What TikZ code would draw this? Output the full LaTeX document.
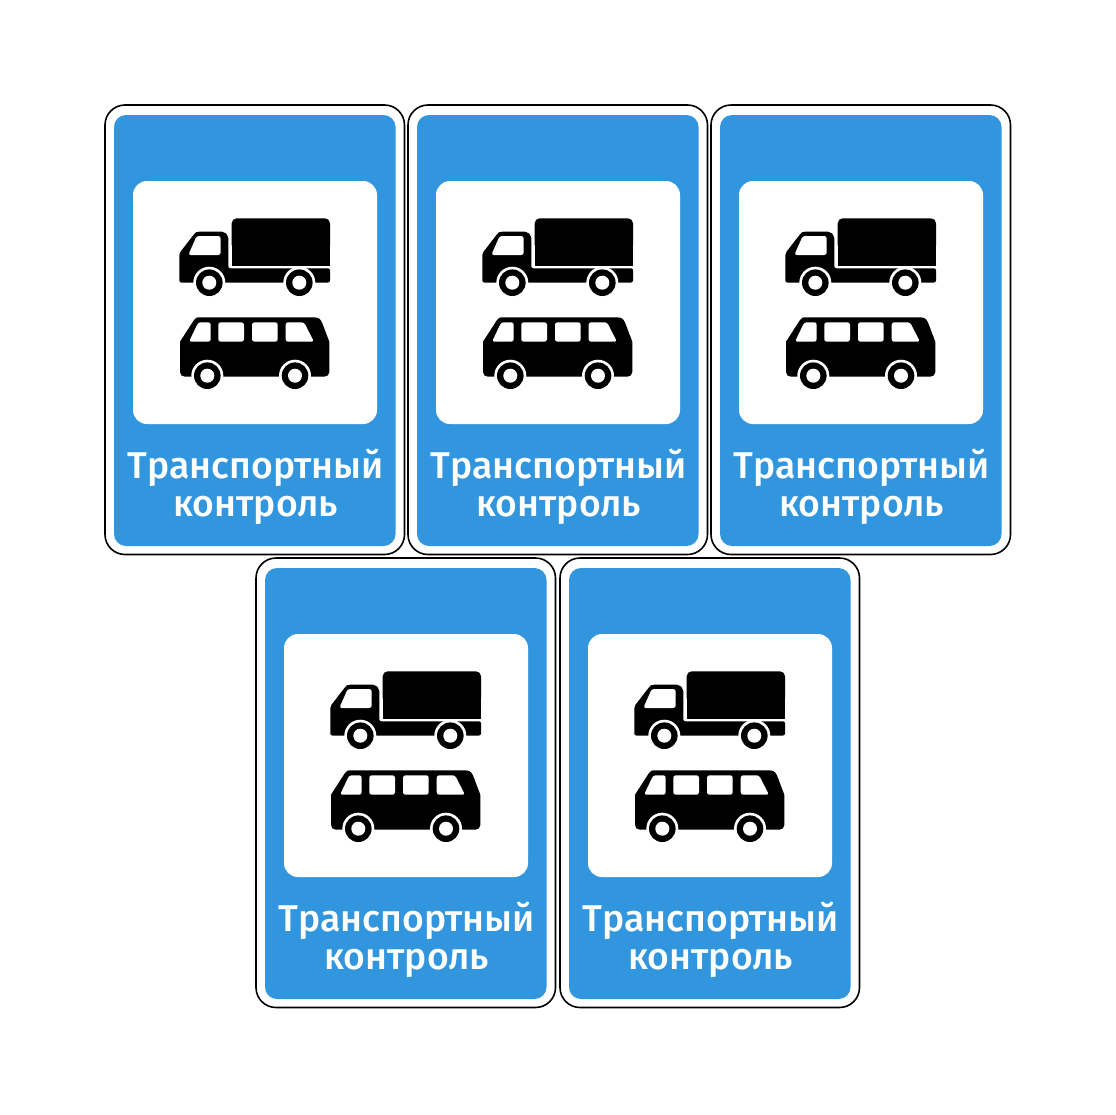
\documentclass[tikz,border=0pt]{standalone}
\usepackage{fontspec}
\setmainfont{Fira Sans Medium}
\definecolor{signblue}{HTML}{3296DF}
\tikzset{
  signframe/.style={draw=black,line width=1.6pt,fill=white,rounded corners=20pt},
  signfield/.style={fill=signblue,rounded corners=12pt},
  signpanel/.style={fill=white,rounded corners=14pt},
  vehicle/.style={fill=black},
  glass/.style={fill=white,rounded corners=2.5pt},
  signtext/.style={text=white,font=\fontsize{37.3}{37.3}\selectfont,anchor=base,inner sep=0pt}
}
\newcommand{\wheel}[2]{%
  \fill[white] (#1,#2) circle (16);
  \fill[black] (#1,#2) circle (13.3);
  \fill[white] (#1,#2) circle (7);
}
\newcommand{\roadsign}[3]{%
\begin{scope}[shift={(#2,#3)}]
  \draw[signframe] (105,105) rectangle (404.5,554.5);
  \fill[signfield] (114,115) rectangle (395.5,546);
  \fill[signpanel] (133,181) rectangle (377,424);
  % truck
  \fill[vehicle,rounded corners=5pt] (231.7,250) rectangle (330,218.3);
  \fill[vehicle] (231.7,235) rectangle (330,265.7);
  \fill[vehicle,rounded corners=2pt] (179.3,282.5) -- (179.3,253.3) -- (195,233) -- (197,231.7) -- (224,231.7) -- (228.3,236) -- (228.3,268.3) -- (330,268.3) -- (330,282.5) -- cycle;
  \fill[glass] (188.3,255) -- (196.7,236) -- (220.7,236) -- (220.7,255) -- cycle;
  \wheel{209.3}{282.7}
  \wheel{299.3}{282.7}
  % bus
  \fill[vehicle] (185,376.7) .. controls (182,376.7) and (180,374.7) .. (180,372) -- (180,341.7) -- (194,320) .. controls (196,317.3) and (197,317.3) .. (199,317.3) -- (314,317.3) .. controls (320,317.3) and (321,320) .. (323,325) -- (329.3,341.7) -- (329.3,372) .. controls (329.3,374.7) and (327.3,376.7) .. (324.3,376.7) -- cycle;
  \fill[glass] (189,341.7) -- (198.3,322.3) -- (210.7,322.3) -- (210.7,341.7) -- cycle;
  \fill[glass] (218.3,322.3) rectangle (244,341.7);
  \fill[glass] (252,322.3) rectangle (277.7,341.7);
  \fill[glass] (285.7,322.3) -- (304,322.3) -- (314,341.7) -- (285.7,341.7) -- cycle;
  \wheel{207.3}{375.7}
  \wheel{295}{375.7}
  \node[signtext] (#1a) at (255.7,478.5) {Транспортный};
  \node[signtext] (#1b) at (255.7,516.5) {контроль};
\end{scope}}
\begin{document}
\begin{tikzpicture}[x=1pt,y=-1pt]
  \useasboundingbox (0,0) rectangle (1116,1114);
  \fill[white] (0,0) rectangle (1116,1114);
  \roadsign{s1}{0}{0}
  \roadsign{s2}{303}{0}
  \roadsign{s3}{606}{0}
  \roadsign{s4}{151}{453}
  \roadsign{s5}{455}{453}
\end{tikzpicture}
\end{document}
